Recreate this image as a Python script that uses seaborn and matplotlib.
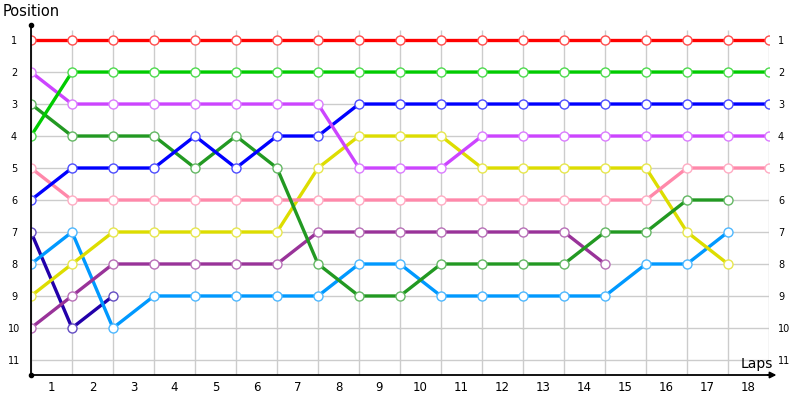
import matplotlib
matplotlib.use('Agg')
import matplotlib.pyplot as plt
import matplotlib.colors as mcolors
import seaborn as sns

# positions per lap boundary (index 0 = start)
laps = [0, 1, 2, 3, 4, 5, 6, 7, 8, 9, 10, 11, 12, 13, 14, 15, 16, 17, 18]
lap_labels = ['1', '2', '3', '4', '5', '6', '7', '8', '9', '10', '11', '12', '13', '14', '15', '16', '17', '18']
positions = [1, 2, 3, 4, 5, 6, 7, 8, 9, 10, 11]

navy = [7, 10, 9]
sky = [8, 7, 10, 9, 9, 9, 9, 9, 8, 8, 9, 9, 9, 9, 9, 8, 8, 7]
purple = [10, 9, 8, 8, 8, 8, 8, 7, 7, 7, 7, 7, 7, 7, 8]
yellow = [9, 8, 7, 7, 7, 7, 7, 5, 4, 4, 4, 5, 5, 5, 5, 5, 7, 8]
pink = [5, 6, 6, 6, 6, 6, 6, 6, 6, 6, 6, 6, 6, 6, 6, 6, 5, 5, 5]
dark_green = [3, 4, 4, 4, 5, 4, 5, 8, 9, 9, 8, 8, 8, 8, 7, 7, 6, 6]
blue = [6, 5, 5, 5, 4, 5, 4, 4, 3, 3, 3, 3, 3, 3, 3, 3, 3, 3, 3]
violet = [2, 3, 3, 3, 3, 3, 3, 3, 5, 5, 5, 4, 4, 4, 4, 4, 4, 4, 4]
green = [4, 2, 2, 2, 2, 2, 2, 2, 2, 2, 2, 2, 2, 2, 2, 2, 2, 2, 2]
red = [1, 1, 1, 1, 1, 1, 1, 1, 1, 1, 1, 1, 1, 1, 1, 1, 1, 1, 1]

series = [
    (navy, '#2200aa'),
    (sky, '#0099ff'),
    (purple, '#993399'),
    (yellow, '#dddd00'),
    (pink, '#ff88aa'),
    (dark_green, '#229922'),
    (blue, '#0000ff'),
    (violet, '#cc44ff'),
    (green, '#00cc00'),
    (red, '#ff0000'),
]


def lighter(c, amount=0.3):
    r, g, b = mcolors.to_rgb(c)
    return (r + (1 - r) * amount, g + (1 - g) * amount, b + (1 - b) * amount)


fig = plt.figure(figsize=(8, 4), dpi=100)
ax = fig.add_axes([31 / 800, 25 / 400, (769 - 31) / 800, 350 / 400])

ymax, ymin = 11.47, 0.53

# grid
ax.vlines(laps, 0.69, ymax, color='#cccccc', lw=1, zorder=0)
ax.hlines(positions, 0, 18, color='#cccccc', lw=1, zorder=0)

for vals, c in series:
    sns.lineplot(x=laps[:len(vals)], y=vals, color=c, lw=2.4, marker='o',
                 markersize=6.5, markerfacecolor='white',
                 markeredgecolor=lighter(c), markeredgewidth=1.0,
                 ax=ax, legend=False)

ax.set_xlim(0, 18)
ax.set_ylim(ymax, ymin)
ax.set_xlabel('')
ax.set_ylabel('')

for s in ['top', 'right']:
    ax.spines[s].set_visible(False)
ax.spines['left'].set_color('black')
ax.spines['left'].set_linewidth(1.3)
ax.spines['bottom'].set_color('black')
ax.spines['bottom'].set_linewidth(1.3)

# left y labels, centred
ax.set_yticks(positions)
ax.set_yticklabels([str(p) for p in positions])
ax.tick_params(axis='y', length=0, labelsize=7, pad=12.2)
for lab in ax.get_yticklabels():
    lab.set_horizontalalignment('center')

# right y labels
ax2 = ax.twinx()
ax2.set_ylim(ymax, ymin)
ax2.set_yticks(positions)
ax2.set_yticklabels([str(p) for p in positions])
ax2.tick_params(axis='y', length=0, labelsize=7, pad=6.5)
for s in ax2.spines.values():
    s.set_visible(False)

# x ticks: grid at integers, labels between
ax.set_xticks(laps)
ax.set_xticklabels([])
ax.set_xticks([i + 0.5 for i in range(18)], minor=True)
ax.set_xticklabels(lap_labels, minor=True)
ax.tick_params(axis='x', which='both', length=0, labelsize=8.5, pad=4)

# axis decorations
ax.annotate('', xy=(18.25, ymax), xytext=(17.9, ymax),
            arrowprops=dict(arrowstyle='-|>', color='black', lw=1.3, mutation_scale=9),
            annotation_clip=False)
ax.plot([0, 0], [ymin, ymax], 'o', color='black', markersize=3, clip_on=False, zorder=5)

fig.text(3 / 800, 1 - 4 / 400, 'Position', ha='left', va='top', fontsize=10.5)
fig.text(773 / 800, 1 - 368 / 400, 'Laps', ha='right', va='baseline', fontsize=10)

fig.savefig('out.png', dpi=100)
